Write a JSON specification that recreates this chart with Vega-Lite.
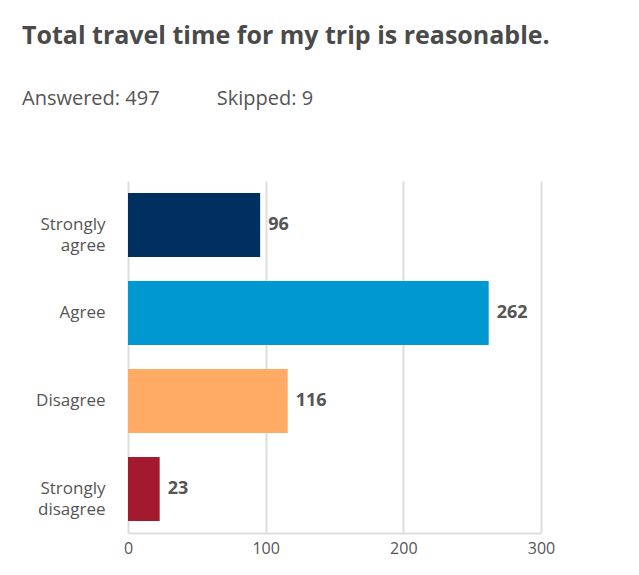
{
  "$schema": "https://vega.github.io/schema/vega-lite/v6.json",
  "autosize": {"type": "none"},
  "width": 413,
  "height": 352,
  "padding": {"left": 128, "top": 181, "right": 98, "bottom": 42},
  "background": "white",
  "title": {
    "text": "Total travel time for my trip is reasonable.",
    "subtitle": "Answered: 497\u00a0\u00a0\u00a0\u00a0\u00a0\u00a0\u00a0\u00a0\u00a0\u00a0\u00a0Skipped: 9",
    "anchor": "start",
    "frame": "group",
    "dx": -106,
    "offset": 72,
    "font": "Open Sans",
    "fontSize": 25,
    "fontWeight": "bold",
    "color": "#4a4a4a",
    "subtitleFont": "Open Sans",
    "subtitleFontSize": 20,
    "subtitleFontWeight": "normal",
    "subtitleColor": "#555555",
    "subtitlePadding": 40
  },
  "data": {
    "values": [
      {"answer": "Strongly agree", "count": 96},
      {"answer": "Agree", "count": 262},
      {"answer": "Disagree", "count": 116},
      {"answer": "Strongly disagree", "count": 23}
    ]
  },
  "encoding": {
    "y": {
      "field": "answer",
      "type": "nominal",
      "sort": null,
      "scale": {"paddingInner": 0.273, "paddingOuter": 0.136},
      "axis": {
        "title": null,
        "domain": false,
        "ticks": false,
        "labelFont": "Open Sans",
        "labelFontSize": 17,
        "labelColor": "#555555",
        "labelPadding": 23,
        "labelLineHeight": 21,
        "labelExpr": "datum.value == 'Strongly agree' ? ['Strongly', 'agree'] : datum.value == 'Strongly disagree' ? ['Strongly', 'disagree'] : datum.value"
      }
    },
    "x": {
      "field": "count",
      "type": "quantitative",
      "scale": {"domain": [0, 300]},
      "axis": {
        "title": null,
        "values": [0, 100, 200, 300],
        "grid": true,
        "gridColor": "#dddddd",
        "gridWidth": 2,
        "domain": true,
        "domainColor": "#dddddd",
        "domainWidth": 2,
        "ticks": false,
        "labelFlush": false,
        "labelFont": "Open Sans",
        "labelFontSize": 16,
        "labelColor": "#555555",
        "labelPadding": 7
      }
    }
  },
  "layer": [
    {
      "mark": {"type": "bar"},
      "encoding": {
        "color": {
          "field": "answer",
          "type": "nominal",
          "legend": null,
          "scale": {
            "domain": ["Strongly agree", "Agree", "Disagree", "Strongly disagree"],
            "range": ["#00305f", "#0098d0", "#ffab66", "#a31a2e"]
          }
        }
      }
    },
    {
      "mark": {"type": "text", "align": "left", "dx": 8, "font": "Open Sans", "fontSize": 18, "fontWeight": "bold", "color": "#555555"},
      "encoding": {"text": {"field": "count", "type": "quantitative"}}
    }
  ],
  "config": {"view": {"stroke": null}}
}
